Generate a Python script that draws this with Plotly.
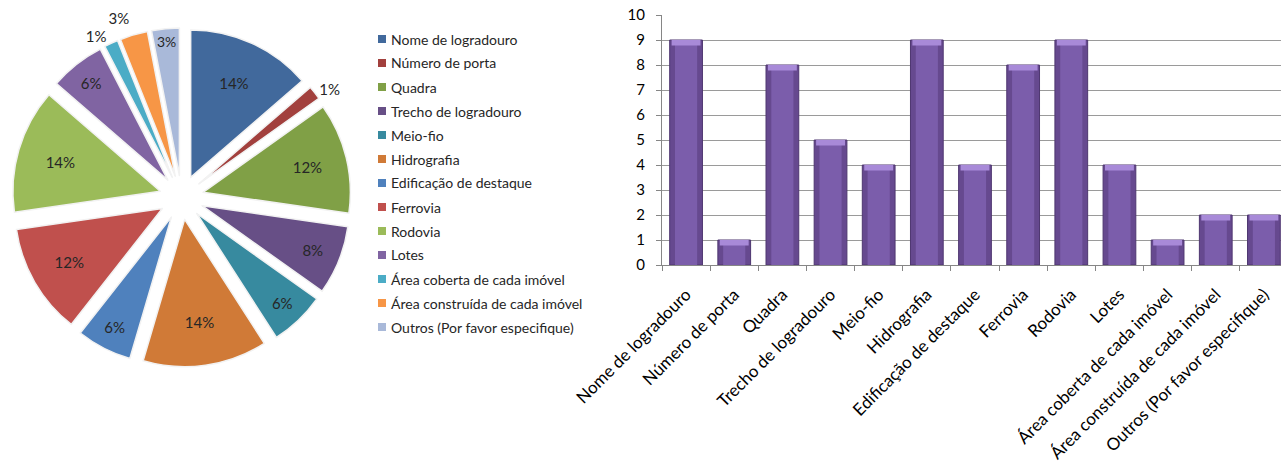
import plotly.graph_objects as go

categories = ["Nome de logradouro", "Número de porta", "Quadra", "Trecho de logradouro",
              "Meio-fio", "Hidrografia", "Edificação de destaque", "Ferrovia", "Rodovia",
              "Lotes", "Área coberta de cada imóvel", "Área construída de cada imóvel",
              "Outros (Por favor especifique)"]
values = [9, 1, 8, 5, 4, 9, 4, 8, 9, 4, 1, 2, 2]
pie_labels = ["14%", "1%", "12%", "8%", "6%", "14%", "6%", "12%", "14%", "6%", "1%", "3%", "3%"]
y_ticks = [0, 1, 2, 3, 4, 5, 6, 7, 8, 9, 10]

pie_colors = ["#41699C", "#A2403D", "#80A046", "#674F86", "#378A9F", "#D07A37",
              "#4F81BD", "#C0504D", "#9BBB59", "#8064A2", "#4BACC6", "#F79646", "#A9B9D9"]
text_pos = ["inside", "outside", "inside", "inside", "inside", "inside", "inside",
            "inside", "inside", "inside", "outside", "outside", "inside"]

W, H = 1281, 468
FONT = "Lato"

fig = go.Figure()

fig.add_trace(go.Pie(
    labels=categories, values=values, text=pie_labels, textinfo="text",
    texttemplate="%{text}", textposition=text_pos,
    insidetextorientation="horizontal",
    sort=False, direction="clockwise", rotation=0,
    pull=[0.15] * len(values), automargin=False,
    marker=dict(colors=pie_colors, line=dict(color="#F2F2F2", width=1.5)),
    textfont=dict(family=FONT, size=15, color="#262626"),
    domain=dict(x=[12 / W, 351 / W], y=[1 - 367 / H, 1 - 28 / H]),
    showlegend=False, hoverinfo="label+value"
))

# bars
fig.add_trace(go.Bar(
    x=categories, y=values, marker=dict(color="#66498F", line=dict(color="#4E3670", width=1)),
    width=0.68, xaxis="x", yaxis="y", showlegend=False
))
fig.add_trace(go.Bar(
    x=categories, y=values, marker=dict(color="#7B5DAB", line=dict(width=0)),
    width=0.46, xaxis="x", yaxis="y", showlegend=False, hoverinfo="skip"
))
fig.add_trace(go.Bar(
    x=categories, y=[0.22] * len(values), base=[v - 0.22 for v in values],
    marker=dict(color="#A88AD8", line=dict(width=0)),
    width=0.6, xaxis="x", yaxis="y", showlegend=False, hoverinfo="skip"
))

fig.update_layout(
    width=W, height=H, paper_bgcolor="white", plot_bgcolor="white",
    margin=dict(l=0, r=0, t=0, b=0, autoexpand=False), barmode="overlay",
    font=dict(family=FONT, color="#262626"),
    xaxis=dict(domain=[662 / W, 1.0], range=[-0.5, 12.355], tickangle=-45,
               tickson="boundaries", ticks="outside", ticklen=5, tickcolor="#868686",
               showline=True, linecolor="#868686", linewidth=1, showgrid=False,
               automargin=False, ticklabelstandoff=12,
               tickfont=dict(family=FONT, size=17, color="#000000")),
    yaxis=dict(domain=[1 - 265 / H, 1 - 15 / H], range=[0, 10], tickvals=y_ticks,
               ticks="outside", ticklen=5, tickcolor="#868686",
               showline=True, linecolor="#868686", linewidth=1, automargin=False,
               showgrid=True, gridcolor="#9A9A9A", gridwidth=1, zeroline=False,
               ticklabelstandoff=8,
               tickfont=dict(family=FONT, size=15, color="#000000")),
)

# legend drawn as text + swatches
for i, (lab, col) in enumerate(zip(categories, pie_colors)):
    yc = 39 + 24 * i
    fig.add_shape(type="rect", xref="paper", yref="paper",
                  x0=378 / W, x1=386 / W, y0=1 - (yc + 4) / H, y1=1 - (yc - 4) / H,
                  fillcolor=col, line=dict(width=0))
    fig.add_annotation(xref="paper", yref="paper", x=389 / W, y=1 - yc / H,
                       text=lab, showarrow=False, xanchor="left", yanchor="middle",
                       font=dict(family=FONT, size=14, color="#262626"))

post = ("document.body.style.margin='0';document.body.style.overflow='hidden';"
        "var s=document.createElement('style');s.textContent='path.textline{display:none}';"
        "document.head.appendChild(s);")
fig.write_html("out.html", post_script=post, config={"displayModeBar": False})
